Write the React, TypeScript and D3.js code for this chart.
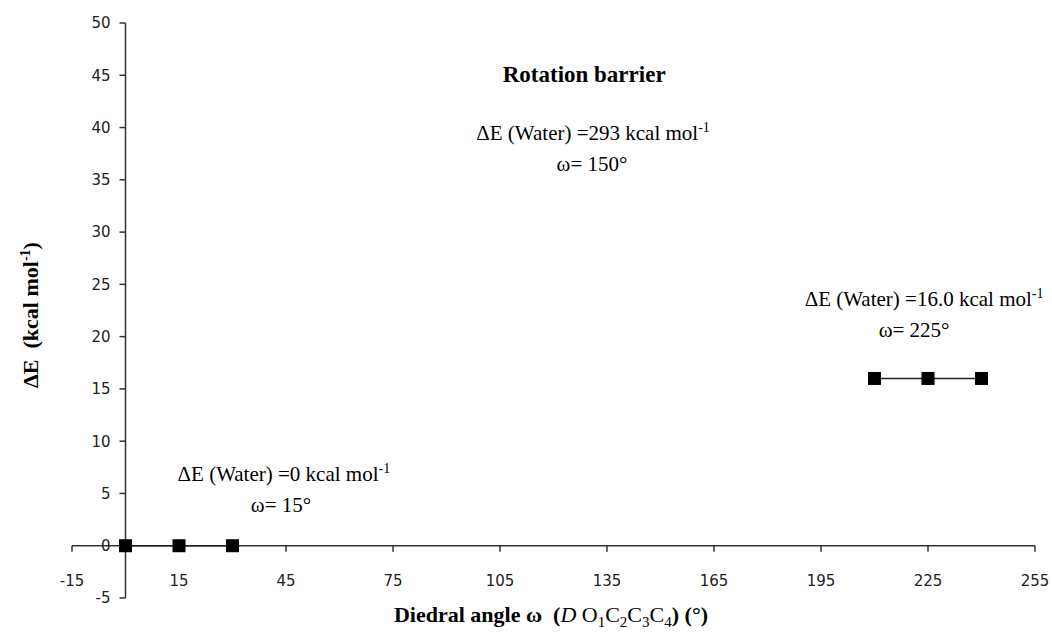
import React from "react";
import * as d3 from "d3";

const W = 1052;
const H = 637;

// Series data
const series1X = [0, 15, 30];
const series1Y = [0, 0, 0];
const series2X = [210, 225, 240];
const series2Y = [16, 16, 16];

// Axis ticks
const xTicks = [-15, 15, 45, 75, 105, 135, 165, 195, 225, 255];
const yTicks = [-5, 0, 5, 10, 15, 20, 25, 30, 35, 40, 45, 50];

// Annotations (data coordinates)
const annotations = [
  { x: 44.4, xo: 43.6, y: 6.19, value: "0", omega: "15" },
  { x: 131.1, xo: 130.8, y: 38.8, value: "293", omega: "150" },
  { x: 223.9, xo: 221.1, y: 22.93, value: "16.0", omega: "225" },
];

const serif = "Liberation Serif";
const sans = "DejaVu Sans";

export default function App() {
  const x = d3.scaleLinear().domain([-15, 255]).range([72, 1035]);
  const y = d3.scaleLinear().domain([-5, 50]).range([598, 23]);
  const x0 = x(0);
  const y0 = y(0);
  const axisColor = "#333";
  const line = d3
    .line<[number, number]>()
    .x((d) => x(d[0]))
    .y((d) => y(d[1]));
  const s1 = series1X.map((v, i) => [v, series1Y[i]] as [number, number]);
  const s2 = series2X.map((v, i) => [v, series2Y[i]] as [number, number]);
  const sq = 13;
  const serifStyle = { fontFamily: serif, whiteSpace: "pre" as const };
  const sansStyle = { fontFamily: sans };

  return (
    <svg
      width={W}
      height={H}
      style={{ position: "absolute", left: 0, top: 0, background: "#fff" }}
    >
      <rect width={W} height={H} fill="#fff" />
      {/* X axis */}
      <line x1={x(-15)} x2={x(255)} y1={y0} y2={y0} stroke={axisColor} strokeWidth={1.5} />
      {xTicks.map((t) => (
        <g key={"xt" + t}>
          <line x1={x(t)} x2={x(t)} y1={y0} y2={y0 + 6} stroke={axisColor} strokeWidth={1.5} />
          <text
            x={x(t)}
            y={586}
            textAnchor="middle"
            style={sansStyle}
            fontSize={15}
            fill="#222"
          >
            {t}
          </text>
        </g>
      ))}
      {/* Y axis */}
      <line x1={x0} x2={x0} y1={y(50)} y2={y(-5)} stroke={axisColor} strokeWidth={1.5} />
      {yTicks.map((t) => (
        <g key={"yt" + t}>
          <line x1={x0 - 6} x2={x0} y1={y(t)} y2={y(t)} stroke={axisColor} strokeWidth={1.5} />
          <text
            x={x0 - 15}
            y={y(t)}
            dy="0.36em"
            textAnchor="end"
            style={sansStyle}
            fontSize={15}
            fill="#222"
          >
            {t}
          </text>
        </g>
      ))}

      {/* Series lines */}
      <path d={line(s1) || ""} fill="none" stroke="#222" strokeWidth={1.5} />
      <path d={line(s2) || ""} fill="none" stroke="#222" strokeWidth={1.5} />
      {[...s1, ...s2].map((d, i) => (
        <rect
          key={"m" + i}
          x={x(d[0]) - sq / 2}
          y={y(d[1]) - sq / 2}
          width={sq}
          height={sq}
          fill="#000"
        />
      ))}

      {/* Title */}
      <text
        x={x(128.6)}
        y={y(44.36)}
        textAnchor="middle"
        style={serifStyle}
        fontWeight="bold"
        fontSize={23}
        fill="#000"
      >
        Rotation barrier
      </text>

      {/* Annotations */}
      {annotations.map((a, i) => (
        <g key={"a" + i} fill="#000">
          <text x={x(a.x)} y={y(a.y)} textAnchor="middle" fontSize={21} style={serifStyle}>
            <tspan>{"ΔE (Water) =" + a.value + " kcal mol"}</tspan>
            <tspan fontSize={14} dy={-8}>-1</tspan>
          </text>
          <text x={x(a.xo)} y={y(a.y) + 31} textAnchor="middle" fontSize={21} style={serifStyle}>
            {"ω= " + a.omega + "°"}
          </text>
        </g>
      ))}

      {/* Y axis title */}
      <text
        transform={`translate(38, 315) rotate(-90)`}
        textAnchor="middle"
        style={serifStyle}
        fontWeight="bold"
        fontSize={22}
        fill="#000"
      >
        <tspan>{"ΔE  (kcal mol"}</tspan>
        <tspan fontSize={14} dy={-8}>-1</tspan>
        <tspan dy={8}>)</tspan>
      </text>

      {/* X axis title */}
      <text
        x={551}
        y={622}
        textAnchor="middle"
        style={serifStyle}
        fontWeight="bold"
        fontSize={22}
        fill="#000"
      >
        <tspan>{"Diedral angle ω  ("}</tspan>
        <tspan fontStyle="italic" fontWeight="normal">D</tspan>
        <tspan fontWeight="normal">{" O"}</tspan>
        <tspan fontWeight="normal" fontSize={15} dy={5}>1</tspan>
        <tspan fontWeight="normal" dy={-5}>C</tspan>
        <tspan fontWeight="normal" fontSize={15} dy={5}>2</tspan>
        <tspan fontWeight="normal" dy={-5}>C</tspan>
        <tspan fontWeight="normal" fontSize={15} dy={5}>3</tspan>
        <tspan fontWeight="normal" dy={-5}>C</tspan>
        <tspan fontWeight="normal" fontSize={15} dy={5}>4</tspan>
        <tspan dy={-5}>{") (°)"}</tspan>
      </text>
    </svg>
  );
}
